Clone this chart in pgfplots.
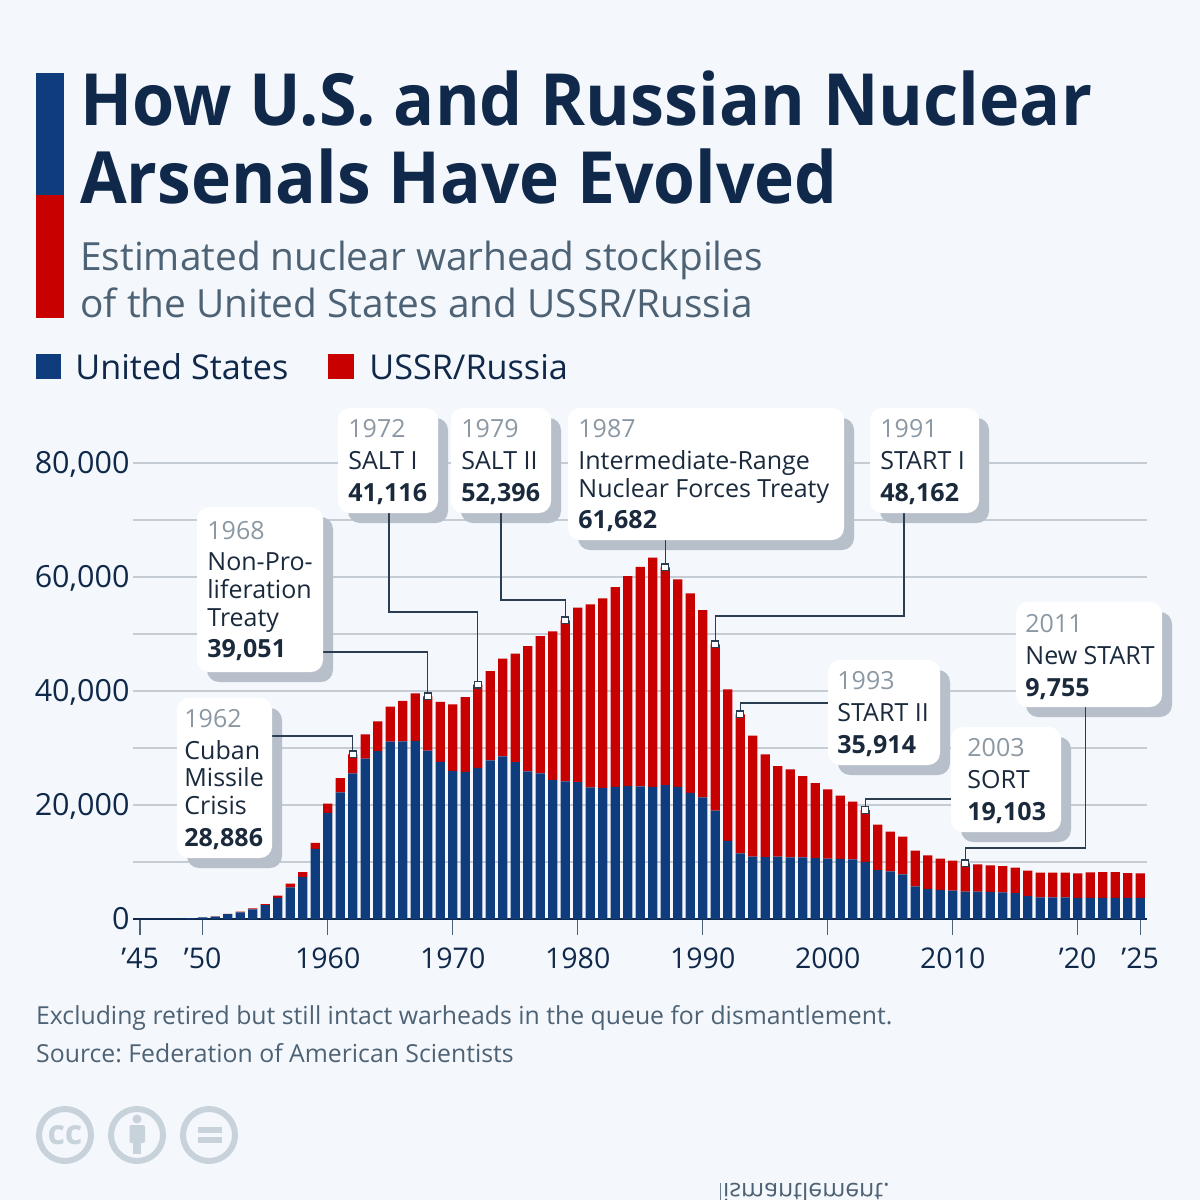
\documentclass[border=0pt]{standalone}
\usepackage{fontspec}
\setmainfont{Open Sans}
\usepackage{pgfplots}
\usepackage{pgfplotstable}
\pgfplotsset{compat=1.18}
\frenchspacing
\definecolor{bg}{HTML}{F4F8FC}
\definecolor{usblue}{HTML}{0F3C7D}
\definecolor{rured}{HTML}{C80000}
\definecolor{titlec}{HTML}{10294A}
\definecolor{subc}{HTML}{4E6275}
\definecolor{gridc}{HTML}{C5CCD4}
\definecolor{shadowc}{HTML}{B7C0CA}
\definecolor{yearc}{HTML}{8B98A3}
\definecolor{boxtext}{HTML}{1A2A3C}
\definecolor{iconc}{HTML}{C8D2DA}
\definecolor{linec}{HTML}{2B3D50}
\pgfplotstableread{
year us russia
1945 2 0
1946 9 0
1947 13 0
1948 50 0
1949 170 1
1950 299 5
1951 438 25
1952 841 50
1953 1169 120
1954 1703 150
1955 2422 200
1956 3692 426
1957 5543 660
1958 7345 869
1959 12298 1060
1960 18638 1605
1961 22229 2471
1962 25540 3346
1963 28133 4238
1964 29463 5221
1965 31139 6129
1966 31175 7089
1967 31255 8339
1968 29561 9490
1969 27552 10538
1970 26008 11643
1971 25830 13092
1972 26516 14600
1973 27835 15665
1974 28537 17128
1975 27519 19021
1976 25914 21976
1977 25542 24098
1978 24418 26042
1979 24138 28258
1980 24000 30610
1981 23100 32100
1982 22950 33300
1983 23200 35040
1984 23300 36870
1985 23250 38550
1986 23200 40180
1987 23500 38182
1988 23200 36380
1989 22150 34970
1990 21350 32850
1991 19000 29162
1992 13700 26590
1993 11500 24414
1994 10950 21210
1995 10850 18030
1996 10950 15890
1997 10800 15450
1998 10800 14280
1999 10700 13160
2000 10600 12150
2001 10550 11080
2002 10450 10130
2003 10027 9076
2004 8570 7980
2005 8360 6960
2006 7853 6587
2007 5709 6281
2008 5273 5897
2009 5113 5467
2010 5000 5230
2011 4800 4955
2012 4800 4790
2013 4750 4660
2014 4680 4620
2015 4550 4450
2016 4000 4480
2017 3800 4330
2018 3780 4350
2019 3800 4330
2020 3700 4310
2021 3700 4490
2022 3700 4540
2023 3700 4540
2024 3700 4370
2025 3700 4310
}\nuk
\newcommand\T[5]{\node[anchor=base west,inner sep=0pt,xshift=-0.8pt,text=#3,font=\fontsize{#4}{#4}\selectfont] at (#1,#2) {#5};}
\newcommand\B[5]{\node[anchor=base west,inner sep=0pt,xshift=-0.8pt,text=#3,font=\fontsize{#4}{#4}\selectfont\bfseries] at (#1,#2) {#5};}
\newcommand\Ti[3]{\node[anchor=base west,inner sep=0pt,xscale=#3,text=titlec,font=\fontsize{72}{72}\selectfont\bfseries] at (80,#1) {#2};}
\newcommand\Sh[4]{\fill[shadowc,rounded corners=12pt] (#1+10,#2+10) rectangle (#3+10,#4+10);}
\newcommand\Bx[4]{\fill[white,rounded corners=12pt] (#1,#2) rectangle (#3,#4);}
\begin{document}
\begin{tikzpicture}
\path[use as bounding box] (0pt,0pt) rectangle (1200pt,-1200pt);
\clip (0pt,0pt) rectangle (1200pt,-1200pt);
\fill[bg] (0pt,0pt) rectangle (1200pt,-1200pt);
\begin{axis}[
  at={(133pt,-919pt)}, anchor=south west, scale only axis,
  width=1014pt, height=456pt,
  xmin=1944.424, xmax=2025.54, ymin=0, ymax=80000,
  clip=false,
  ybar stacked, bar width=9.2pt,
  axis x line*=bottom, axis y line*=left,
  y axis line style={draw=none},
  x axis line style={draw=titlec,line width=1.6pt,-},
  xtick={1945,1950,1960,1970,1980,1990,2000,2010,2020,2025},
  xticklabels={’45,’50,1960,1970,1980,1990,2000,2010,’20,’25},
  xtick style={draw=subc,line width=1.4pt},
  major tick length=16pt,
  xtick pos=bottom, tick align=outside,
  ytick={0,20000,40000,60000,80000},
  minor ytick={10000,30000,50000,70000},
  ymajorgrids, yminorgrids,
  major grid style={draw=gridc,line width=1.4pt},
  minor grid style={draw=gridc,line width=1.4pt},
  ytick style={draw=none},
  minor y tick style={draw=none},
  /pgf/number format/assume math mode=true,
  /pgf/number format/1000 sep={,},
  scaled y ticks=false,
  yticklabel style={font=\fontsize{30.5}{30.5}\selectfont,text=titlec,anchor=base east,xshift=16pt,yshift=-10.5pt},
  xticklabel style={font=\fontsize{28.5}{28.5}\selectfont,text=titlec,anchor=base,yshift=-33pt},
]
\addplot[fill=usblue,draw=none] table[x=year,y=us] {\nuk};
\addplot[fill=rured,draw=none] table[x=year,y=russia] {\nuk};
\end{axis}
\begin{scope}[x=1pt,y=-1pt]
% shadows
\Sh{177}{698}{272}{858}
\Sh{197}{507}{323}{672}
\Sh{338}{408}{438}{513}
\Sh{451}{408}{551}{513}
\Sh{568}{408}{844}{540}
\Sh{870}{408}{979}{513}
\Sh{828}{660}{940}{765}
\Sh{951}{727}{1061}{832}
\Sh{1016}{602}{1162}{707}
\end{scope}
\begin{axis}[
  at={(133pt,-919pt)}, anchor=south west, scale only axis,
  width=1014pt, height=456pt,
  xmin=1944.424, xmax=2025.54, ymin=0, ymax=80000,
  clip=false, hide axis,
]
\addplot[linec,line width=1.2pt] coordinates {(1955.5,32105) (1962,32105) (1962,28886)};
\addplot[linec,line width=1.2pt] coordinates {(1959.6,46842) (1968,46842) (1968,39051)};
\addplot[linec,line width=1.2pt] coordinates {(1964.9,71228) (1964.9,53860) (1972,53860) (1972,41116)};
\addplot[linec,line width=1.2pt] coordinates {(1973.86,71228) (1973.86,55965) (1979,55965) (1979,52396)};
\addplot[linec,line width=1.2pt] coordinates {(1987,66491) (1987,61682)};
\addplot[linec,line width=1.2pt] coordinates {(2006.1,71228) (2006.1,53158) (1991,53158) (1991,48162)};
\addplot[linec,line width=1.2pt] coordinates {(2000,37895) (1993,37895) (1993,35914)};
\addplot[linec,line width=1.2pt] coordinates {(2009.9,21052) (2003,21052) (2003,19103)};
\addplot[linec,line width=1.2pt] coordinates {(2020.6,37193) (2020.6,12456) (2011,12456) (2011,9755)};
\addplot[only marks,mark=square*,mark size=3.4pt,mark options={fill=white,draw=linec,line width=1.2pt}] coordinates {(1962,28886) (1968,39051) (1972,41116) (1979,52396) (1987,61682) (1991,48162) (1993,35914) (2003,19103) (2011,9755)};
\end{axis}
\begin{scope}[x=1pt,y=-1pt]
% header bar
\fill[usblue] (36,73) rectangle (64,195);
\fill[rured] (36,195) rectangle (64,318);
\Ti{125}{How U.S. and Russian Nuclear}{0.948}
\Ti{203}{Arsenals Have Evolved}{0.94}
\T{81}{270}{subc}{38.8}{Estimated nuclear warhead stockpiles}
\T{81}{317}{subc}{38.8}{of the United States and USSR/Russia}
% legend
\fill[usblue] (36,354) rectangle (61,379);
\T{76}{379}{titlec}{34.2}{United States}
\fill[rured] (328,354) rectangle (354,379);
\T{370}{379}{titlec}{34.2}{USSR/Russia}
% boxes
\Bx{177}{698}{272}{858}
\T{185}{727}{yearc}{25}{1962}
\T{185}{759}{boxtext}{25}{Cuban}
\T{185}{786}{boxtext}{25}{Missile}
\T{185}{814}{boxtext}{25}{Crisis}
\B{185}{846}{boxtext}{25}{28,886}
\Bx{197}{507}{323}{672}
\T{208}{539}{yearc}{25}{1968}
\T{208}{570}{boxtext}{25}{Non-Pro-}
\T{208}{598}{boxtext}{25}{liferation}
\T{208}{626}{boxtext}{25}{Treaty}
\B{208}{657}{boxtext}{25}{39,051}
\Bx{338}{408}{438}{513}
\T{349}{437}{yearc}{25}{1972}
\T{349}{469}{boxtext}{25}{SALT I}
\B{349}{501}{boxtext}{25}{41,116}
\Bx{451}{408}{551}{513}
\T{462}{437}{yearc}{25}{1979}
\T{462}{469}{boxtext}{25}{SALT II}
\B{462}{501}{boxtext}{25}{52,396}
\Bx{568}{408}{844}{540}
\T{579}{437}{yearc}{25}{1987}
\T{579}{469}{boxtext}{25}{Intermediate-Range}
\T{579}{497}{boxtext}{25}{Nuclear Forces Treaty}
\B{579}{528}{boxtext}{25}{61,682}
\Bx{870}{408}{979}{513}
\T{881}{437}{yearc}{25}{1991}
\T{881}{469}{boxtext}{25}{START I}
\B{881}{501}{boxtext}{25}{48,162}
\Bx{828}{660}{940}{765}
\T{838}{689}{yearc}{25}{1993}
\T{838}{721}{boxtext}{25}{START II}
\B{838}{753}{boxtext}{25}{35,914}
\Bx{951}{727}{1061}{832}
\T{968}{756}{yearc}{25}{2003}
\T{968}{788}{boxtext}{25}{SORT}
\B{968}{820}{boxtext}{25}{19,103}
\Bx{1016}{602}{1162}{707}
\T{1026}{632}{yearc}{25}{2011}
\T{1026}{664}{boxtext}{25}{New START}
\B{1026}{696}{boxtext}{25}{9,755}
% footer
\T{36.8}{1024}{subc}{24.8}{Excluding retired but still intact warheads in the queue for dismantlement.}
\T{36.8}{1062}{subc}{24.8}{Source: Federation of American Scientists}
% licence icons
\draw[iconc,line width=6pt] (65,1135) circle (26);
\draw[iconc,line width=6pt] (137,1135) circle (26);
\draw[iconc,line width=6pt] (209,1135) circle (26);
\node[text=iconc,font=\fontsize{34}{34}\selectfont\bfseries,inner sep=0pt] at (65,1135) {cc};
\fill[iconc] (137,1119) circle (4.5);
\fill[iconc,rounded corners=2pt] (129.5,1125) rectangle (145,1143);
\fill[iconc] (133,1140) rectangle (141,1154);
\fill[iconc] (198,1127) rectangle (222,1133);
\fill[iconc] (198,1137) rectangle (222,1143);
% mirrored stray line at the foot
\begin{scope}
\clip (720,1170) rectangle (900,1200);
\node[anchor=base east,inner sep=0pt,text=subc,yscale=-1,font=\fontsize{24.8}{24.8}\selectfont] at (890,1183) {dismantlement.};
\end{scope}
\end{scope}
\end{tikzpicture}
\end{document}
